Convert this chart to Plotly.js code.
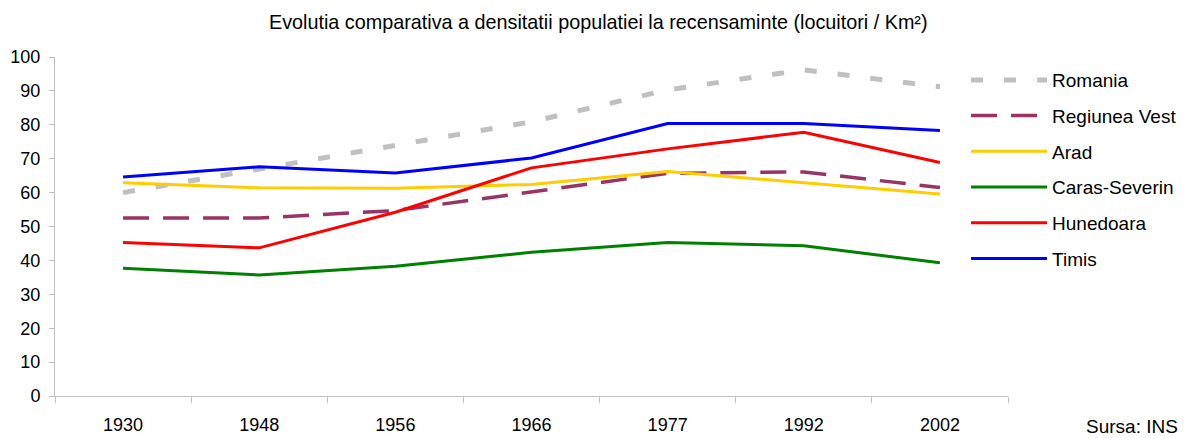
<!DOCTYPE html>
<html>
<head>
<meta charset="utf-8">
<script src="https://cdn.plot.ly/plotly-3.0.1.min.js"></script>
<style>html,body{margin:0;padding:0;background:#fff}#chart{width:1187px;height:438px}</style>
</head>
<body>
<div id="chart"></div>
<script>
const years = ["1930", "1948", "1956", "1966", "1977", "1992", "2002"];
const seriesNames = ["Romania", "Regiunea Vest", "Arad", "Caras-Severin", "Hunedoara", "Timis"];
const romania = [60.0, 67.0, 74.0, 80.9, 90.3, 96.2, 91.2];
const regiuneaVest = [52.5, 52.5, 54.7, 60.3, 65.7, 66.1, 61.5];
const arad = [62.9, 61.4, 61.3, 62.4, 66.2, 62.9, 59.6];
const carasSeverin = [37.7, 35.7, 38.3, 42.4, 45.3, 44.3, 39.3];
const hunedoara = [45.3, 43.7, 54.2, 67.3, 72.9, 77.8, 68.9];
const timis = [64.6, 67.6, 65.8, 70.2, 80.4, 80.4, 78.3];
const titleText = "Evolutia comparativa a densitatii populatiei la recensaminte (locuitori / Km²)";
const sourceText = "Sursa: INS";

const seriesValues = [romania, regiuneaVest, arad, carasSeverin, hunedoara, timis];
const styles = [
  {color: "#C0C0C0", width: 5, dash: "12px,21px"},
  {color: "#993366", width: 3.5, dash: "26px,14px"},
  {color: "#FFCC00", width: 3, dash: "solid"},
  {color: "#008000", width: 3, dash: "solid"},
  {color: "#FF0000", width: 3, dash: "solid"},
  {color: "#0000FF", width: 3, dash: "solid"}
];

const traces = seriesNames.map((n, i) => ({
  type: "scatter", mode: "lines", name: n, x: years, y: seriesValues[i],
  line: styles[i], legendgroup: "g" + i, hoverinfo: "x+y+name"
}));

const font = "Liberation Sans, Arial, sans-serif";
const layout = {
  width: 1187, height: 438,
  paper_bgcolor: "#fff", plot_bgcolor: "#fff",
  margin: {l: 55, r: 179, t: 57, b: 42, pad: 0, autoexpand: false},
  font: {family: font, size: 18, color: "#000"},
  title: {text: titleText, font: {family: font, size: 19.8, color: "#000"}, x: 0.504, xanchor: "center", y: 0.95, yanchor: "middle", yref: "container"},
  showlegend: true,
  legend: {x: 0.956, xanchor: "left", xref: "paper", y: 0.988, yanchor: "top", font: {family: font, size: 19, color: "#000"},
    traceorder: "grouped", tracegroupgap: 8, itemwidth: 76, bgcolor: "rgba(0,0,0,0)", borderwidth: 0},
  xaxis: {type: "category", range: [-0.5, 6.5], showgrid: false, zeroline: false,
    showline: true, linecolor: "#C0C0C0", linewidth: 1, ticks: "outside", ticklen: 6, tickcolor: "#C0C0C0",
    tickson: "boundaries", ticklabelstandoff: 12, tickfont: {size: 18}},
  yaxis: {range: [0, 100], dtick: 10, tick0: 0, showgrid: false, zeroline: false,
    showline: true, linecolor: "#C0C0C0", linewidth: 1, ticks: "outside", ticklen: 5, tickcolor: "#C0C0C0",
    ticklabelstandoff: 5, tickfont: {size: 18}},
  annotations: [{text: sourceText, xref: "paper", yref: "paper", x: 1.1805, y: -0.091, xanchor: "right", yanchor: "middle", showarrow: false, font: {family: font, size: 19, color: "#000"}}]
};

Plotly.newPlot("chart", traces, layout, {displayModeBar: false, staticPlot: true});
</script>
</body>
</html>
